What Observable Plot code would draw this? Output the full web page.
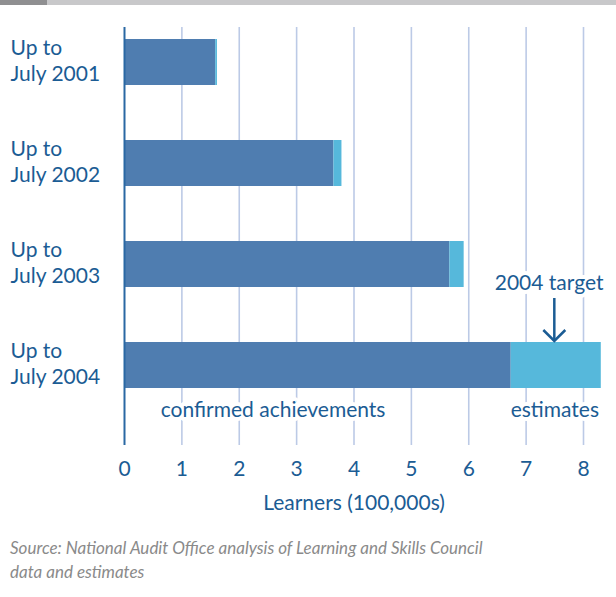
<!DOCTYPE html>
<html>
<head>
<meta charset="utf-8">
<script src="https://cdn.jsdelivr.net/npm/d3@7"></script>
<script src="https://cdn.jsdelivr.net/npm/@observablehq/plot@0.6"></script>
<style>
  html, body { margin: 0; padding: 0; background: #fff; }
  #wrap { position: relative; width: 616px; height: 597px; overflow: hidden; }
  #topbar { position: absolute; left: 0; top: 0; width: 616px; height: 5px; background: #c8c8ca; }
  #topbar div { width: 47px; height: 5px; background: #8f8f91; }
  #chart { position: absolute; left: 0; top: 0; }
  #caption { position: absolute; left: 10px; top: 536px; font-family: Lato, sans-serif; font-style: italic;
    font-size: 17px; line-height: 24px; color: #8a8a8a; }
</style>
</head>
<body>
<div id="wrap">
  <div id="chart"></div>
  <div id="topbar"><div></div></div>
  <div id="caption">Source: National Audit Office analysis of Learning and Skills Council<br>data and estimates</div>
</div>
<script>
const categories = ["Up to\nJuly 2001", "Up to\nJuly 2002", "Up to\nJuly 2003", "Up to\nJuly 2004"];
const confirmed = [1.59, 3.65, 5.67, 6.74];
const estimates = [0.03, 0.14, 0.25, 1.57];
const target2004 = 7.5;
const xTicks = [0, 1, 2, 3, 4, 5, 6, 7, 8];
const seriesNames = ["confirmed achievements", "estimates"];
const seriesColors = ["#4f7db0", "#56b8db"];

const textColor = "#1b5c94";
const font = "Lato, sans-serif";
const fs = 21;

const rows = [];
categories.forEach((c, i) => {
  rows.push({category: c, series: seriesNames[0], value: confirmed[i]});
  rows.push({category: c, series: seriesNames[1], value: estimates[i]});
});

const lastCat = categories[categories.length - 1];

const chart = Plot.plot({
  width: 616,
  height: 530,
  marginLeft: 124,
  marginRight: 33,
  marginTop: 27,
  marginBottom: 85,
  style: {fontFamily: font, fontSize: fs + "px", background: "transparent"},
  x: {domain: [0, 8], ticks: xTicks},
  y: {domain: categories, range: [27, 400], paddingInner: 0.545, paddingOuter: 0.119, axis: null},
  color: {domain: seriesNames, range: seriesColors},
  marks: [
    Plot.gridX(xTicks.filter(d => d > 0), {stroke: "#bccae6", strokeOpacity: 1, strokeWidth: 1.6}),
    Plot.barX(rows, Plot.stackX({y: "category", x: "value", fill: "series", order: seriesNames})),
    Plot.ruleX([0], {stroke: "#2a68a3", strokeWidth: 2}),
    Plot.axisX(xTicks, {tickSize: 0, tickPadding: 16, fontSize: fs, fill: textColor, label: null}),
    Plot.text(["Learners (100,000s)"], {frameAnchor: "bottom", dy: 64, fill: textColor, fontSize: fs}),
    Plot.text(categories, {y: d => d, x: 0, dx: -114, dy: -3, textAnchor: "start", fill: textColor, fontSize: fs, lineHeight: 1.24}),
    Plot.text([{x: 2.59, label: seriesNames[0]}, {x: target2004, label: seriesNames[1]}],
      {x: "x", y: () => lastCat, dy: 45, text: "label", fill: textColor, fontSize: fs, stroke: "white", strokeWidth: 8}),
    Plot.text(["2004 target"], {x: () => target2004 - 0.1, y: () => lastCat, dy: -82, fill: textColor, fontSize: fs, stroke: "white", strokeWidth: 8}),
    (index, scales) => {
      const x = scales.x(target2004);
      const tip = scales.y(lastCat);
      const g = d3.create("svg:g").attr("fill", "none").attr("stroke", textColor).attr("stroke-width", 2.5);
      g.append("line").attr("x1", x).attr("x2", x).attr("y1", tip - 44).attr("y2", tip - 1);
      g.append("polyline").attr("points", `${x - 11},${tip - 12} ${x},${tip - 1} ${x + 11},${tip - 12}`);
      return g.node();
    }
  ]
});
document.getElementById("chart").appendChild(chart);
</script>
</body>
</html>
